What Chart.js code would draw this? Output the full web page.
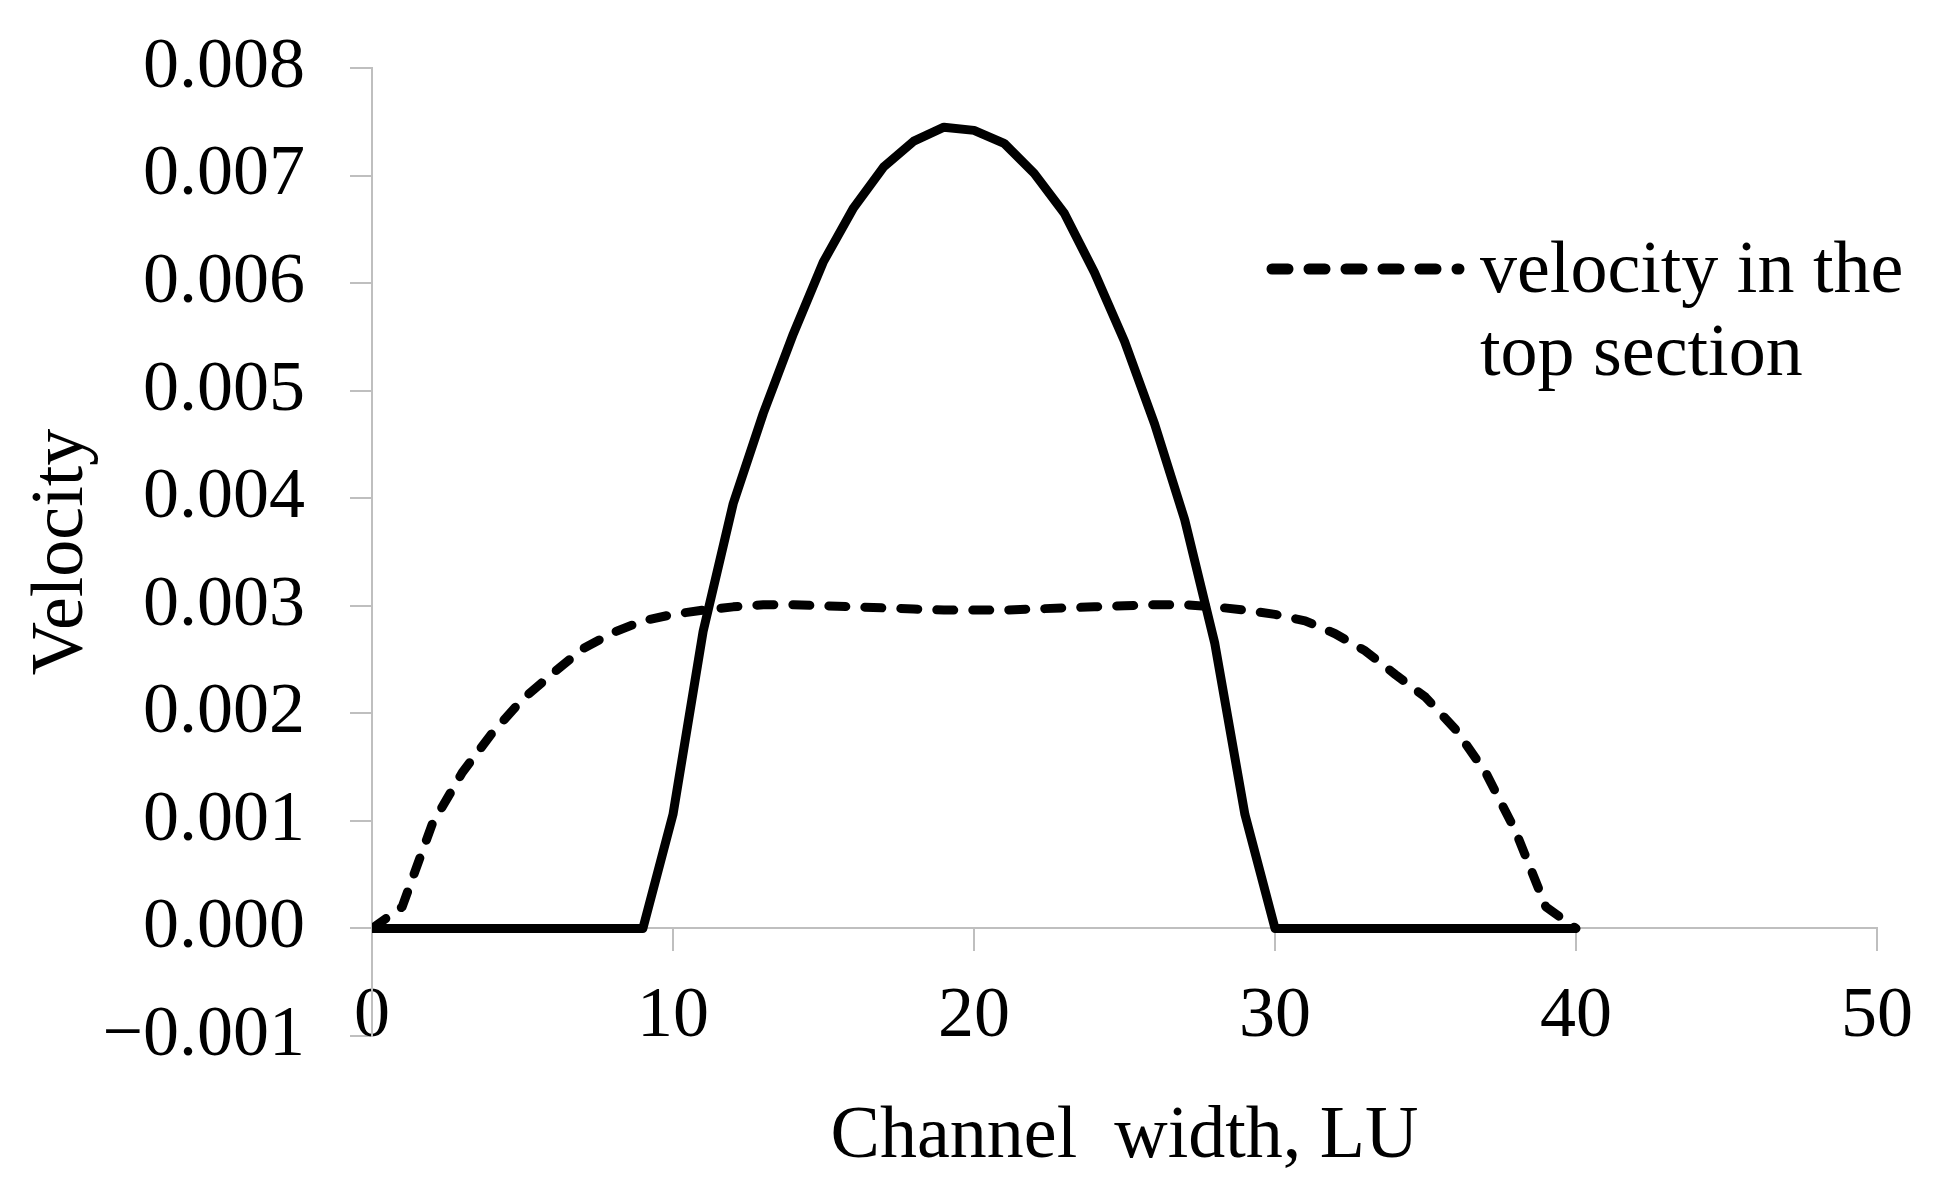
<!DOCTYPE html>
<html>
<head>
<meta charset="utf-8">
<script src="https://cdn.jsdelivr.net/npm/chart.js@4.4.1/dist/chart.umd.min.js"></script>
<style>
  html, body { margin: 0; padding: 0; background: #fff; }
  #wrap { width: 1936px; height: 1186px; }
</style>
</head>
<body>
<div id="wrap"><canvas id="velocityChart"></canvas></div>
<script>
// channel width positions, LU
const widthLU = [0, 1, 2, 3, 4, 5, 6, 7, 8, 9, 10, 11, 12, 13, 14, 15, 16, 17, 18, 19, 20,
  21, 22, 23, 24, 25, 26, 27, 28, 29, 30, 31, 32, 33, 34, 35, 36, 37, 38, 39, 40];

// solid curve
const velocityMain = [0, 0, 0, 0, 0, 0, 0, 0, 0, 0, 0.00106, 0.00276, 0.00395, 0.00479, 0.00553,
  0.0062, 0.0067, 0.00708, 0.00732, 0.00745, 0.00742, 0.0073, 0.00702, 0.00665, 0.0061,
  0.00546, 0.00469, 0.0038, 0.00265, 0.00106, 0, 0, 0, 0, 0, 0, 0, 0, 0, 0, 0];

// dashed curve (legend entry)
const velocityTop = [0, 0.0002, 0.00097, 0.00145, 0.00182, 0.00213, 0.00237, 0.0026, 0.00275,
  0.00286, 0.00292, 0.00296, 0.00299, 0.00301, 0.00301, 0.003, 0.00299, 0.00298, 0.00297,
  0.00296, 0.00296, 0.00296, 0.00297, 0.00298, 0.00299, 0.003, 0.00301, 0.00301, 0.00299,
  0.00296, 0.00292, 0.00286, 0.00274, 0.00258, 0.00236, 0.00215, 0.00185, 0.00145, 0.0009,
  0.0002, 0];

const xTicks = [0, 10, 20, 30, 40, 50];
const yMin = -0.001, yMax = 0.008, yStep = 0.001;

const FONT = "'Liberation Serif', 'Times New Roman', serif";
const AXIS_GRAY = '#bfbfbf';

// legend drawn by hand so the label can wrap over two lines
const sideLegend = {
  id: 'sideLegend',
  afterDraw(chart) {
    const ctx = chart.ctx;
    chart.data.datasets.forEach(ds => {
      if (!ds.legendLines) return;
      ctx.save();
      ctx.strokeStyle = ds.borderColor;
      ctx.lineWidth = 11;
      ctx.lineCap = 'round';
      ctx.setLineDash([16, 21]);
      ctx.beginPath();
      ctx.moveTo(1272, 269);
      ctx.lineTo(1459, 269);
      ctx.stroke();
      ctx.setLineDash([]);
      ctx.fillStyle = '#000';
      ctx.font = '74px ' + FONT;
      ctx.textBaseline = 'alphabetic';
      ds.legendLines.forEach((t, i) => ctx.fillText(t, 1480, 292 + i * 83));
      ctx.restore();
    });
  }
};

new Chart(document.getElementById('velocityChart'), {
  type: 'line',
  data: {
    datasets: [{
      label: 'velocity',
      data: widthLU.map((x, i) => ({ x: x, y: velocityMain[i] })),
      borderColor: '#000',
      borderWidth: 9,
      borderJoinStyle: 'round',
      pointRadius: 0,
      tension: 0,
      fill: false
    }, {
      label: 'velocity in the top section',
      legendLines: ['velocity in the', 'top section'],
      data: widthLU.map((x, i) => ({ x: x, y: velocityTop[i] })),
      borderColor: '#000',
      borderWidth: 9,
      borderDash: [17, 19],
      borderCapStyle: 'round',
      borderJoinStyle: 'round',
      pointRadius: 0,
      tension: 0,
      fill: false
    }]
  },
  options: {
    responsive: true,
    maintainAspectRatio: false,
    animation: false,
    layout: {
      padding: { left: 0, top: 68, right: 59, bottom: 150 }
    },
    plugins: {
      legend: { display: false },
      tooltip: { enabled: false }
    },
    scales: {
      x: {
        type: 'linear',
        position: { y: 0 },
        min: 0,
        max: 50,
        afterBuildTicks: s => { s.ticks = xTicks.map(v => ({ value: v })); },
        grid: {
          drawOnChartArea: false,
          drawTicks: true,
          tickLength: 22,
          color: AXIS_GRAY,
          lineWidth: 2
        },
        border: { display: true, color: AXIS_GRAY, width: 2 },
        ticks: {
          color: '#000',
          padding: 23,
          maxRotation: 0,
          font: { family: FONT, size: 72 }
        },
        title: {
          display: true,
          text: 'Channel  width, LU',
          color: '#000',
          padding: { top: 10, bottom: 0 },
          font: { family: FONT, size: 74 }
        }
      },
      y: {
        type: 'linear',
        min: yMin,
        max: yMax,
        // fixed axis width; keep the label gap from pushing the plot top down
        afterFit: s => { s.width = 372; s.paddingTop = 40; s.paddingBottom = 40; },
        grid: {
          drawOnChartArea: false,
          drawTicks: true,
          tickLength: 22,
          color: AXIS_GRAY,
          lineWidth: 2
        },
        border: { display: true, color: AXIS_GRAY, width: 2 },
        ticks: {
          stepSize: yStep,
          color: '#000',
          padding: 45,
          font: { family: FONT, size: 72 },
          callback: v => (v < -1e-9 ? '\u2212' : '') + Math.abs(v).toFixed(3)
        },
        title: {
          display: true,
          text: 'Velocity',
          color: '#000',
          padding: { top: 18, bottom: 0 },
          font: { family: FONT, size: 74 }
        }
      }
    }
  },
  plugins: [sideLegend]
});
</script>
</body>
</html>
